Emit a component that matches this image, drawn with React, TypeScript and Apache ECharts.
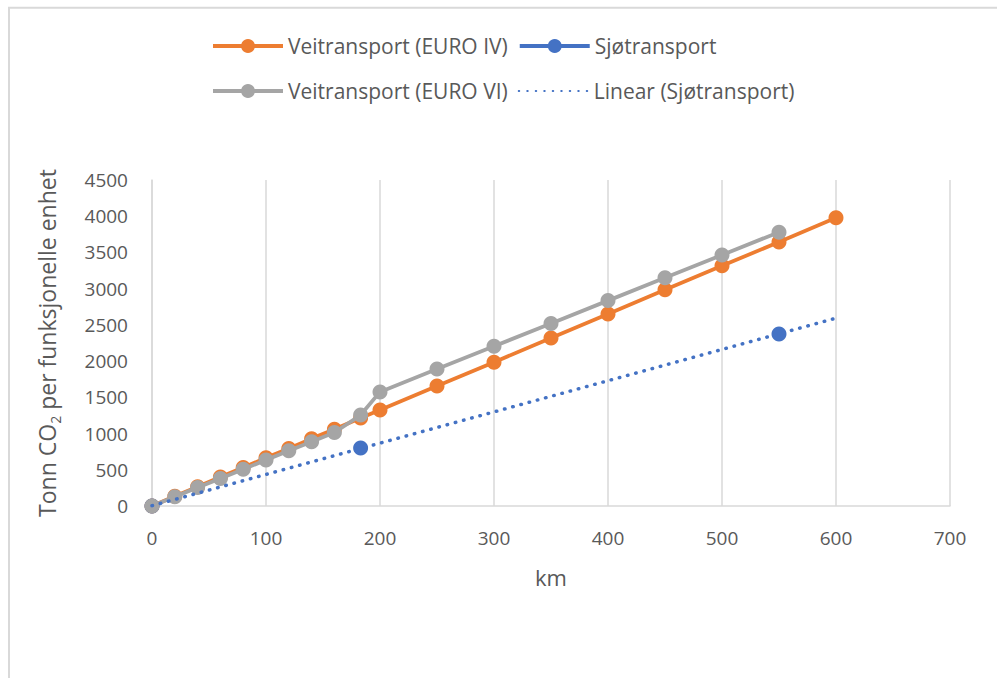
import React, { useEffect, useRef } from "react";
import * as echarts from "echarts";

// Distances (km) and tonnes CO2 per functional unit
const kmRoad = [0, 20, 40, 60, 80, 100, 120, 140, 160, 183, 200, 250, 300, 350, 400, 450, 500, 550, 600];
const euroIV = [0, 135, 265, 400, 530, 665, 795, 930, 1060, 1215, 1325, 1655, 1985, 2320, 2650, 2985, 3315, 3645, 3980];

const kmRoadVI = [0, 20, 40, 60, 80, 100, 120, 140, 160, 183, 200, 250, 300, 350, 400, 450, 500, 550];
const euroVI = [0, 127, 255, 380, 507, 635, 762, 888, 1015, 1255, 1575, 1890, 2205, 2520, 2835, 3150, 3465, 3780];

const kmSea = [0, 183, 550];
const sea = [0, 800, 2375];

const trendRange = [0, 600];

const xTicks = { min: 0, max: 700, interval: 100 };
const yTicks = { min: 0, max: 4500, interval: 500 };

const ORANGE = "#ED7D31";
const GREY = "#A5A5A5";
const BLUE = "#4472C4";
const TEXT = "#595959";
const GRID = "#D9D9D9";
const FONT = "'Open Sans', 'Noto Sans', sans-serif";

// Least-squares line through the sea transport points
function linearFit(xs: number[], ys: number[]) {
  const n = xs.length;
  const mx = xs.reduce((a, b) => a + b, 0) / n;
  const my = ys.reduce((a, b) => a + b, 0) / n;
  let sxy = 0;
  let sxx = 0;
  for (let i = 0; i < n; i++) {
    sxy += (xs[i] - mx) * (ys[i] - my);
    sxx += (xs[i] - mx) * (xs[i] - mx);
  }
  const slope = sxy / sxx;
  return { slope, intercept: my - slope * mx };
}

const zip = (xs: number[], ys: number[]) => xs.map((x, i) => [x, ys[i]]);

export default function App() {
  const ref = useRef<HTMLDivElement>(null);

  useEffect(() => {
    if (!ref.current) return;
    const chart = echarts.init(ref.current, null, { renderer: "svg" });
    const fit = linearFit(kmSea, sea);
    const trend = trendRange.map((x) => [x, fit.intercept + fit.slope * x]);

    const legendCommon = {
      orient: "horizontal" as const,
      padding: 0,
      itemWidth: 70,
      itemHeight: 17.5,
      itemGap: 10,
      textStyle: {
        fontSize: 21,
        color: TEXT,
        fontFamily: FONT,
        lineHeight: 24,
      },
    };

    chart.setOption({
      animation: false,
      backgroundColor: "#ffffff",
      graphic: [
        {
          type: "rect",
          shape: { x: 9, y: 7.7, width: 1100, height: 800 },
          style: { fill: "none", stroke: GRID, lineWidth: 2 },
          silent: true,
        },
      ],
      legend: [
        {
          ...legendCommon,
          left: 211,
          top: 34,
          data: [
            { name: "Veitransport (EURO IV)", lineStyle: { width: 4 } },
            { name: "Sjøtransport", lineStyle: { opacity: 1, width: 4, color: BLUE } },
          ],
        },
        {
          ...legendCommon,
          left: 211,
          top: 79,
          data: [
            { name: "Veitransport (EURO VI)", lineStyle: { width: 4 } },
            { name: "Linear (Sjøtransport)", itemStyle: { opacity: 0 } },
          ],
        },
      ],
      grid: { left: 152, right: 47, top: 180, bottom: 172, containLabel: false },
      xAxis: {
        type: "value",
        ...xTicks,
        name: "km",
        nameLocation: "middle",
        nameGap: 60,
        nameTextStyle: { fontSize: 22, color: TEXT, fontFamily: FONT },
        axisLine: { show: true, lineStyle: { color: GRID, width: 1.5 } },
        axisTick: { show: false },
        axisLabel: { fontSize: 19, color: TEXT, fontFamily: FONT, margin: 22 },
        splitLine: { show: true, lineStyle: { color: GRID, width: 1.5 } },
      },
      yAxis: {
        type: "value",
        ...yTicks,
        name: "Tonn CO{sub|2} per funksjonelle enhet",
        nameLocation: "middle",
        nameGap: 90,
        nameTextStyle: {
          fontSize: 23,
          color: TEXT,
          fontFamily: FONT,
          lineHeight: 30,
          rich: {
            sub: {
              fontSize: 14,
              color: TEXT,
              fontFamily: FONT,
              lineHeight: 30,
              verticalAlign: "bottom",
            },
          },
        },
        axisLine: { show: true, lineStyle: { color: GRID, width: 1.5 } },
        axisTick: { show: false },
        axisLabel: {
          fontSize: 19,
          color: TEXT,
          fontFamily: FONT,
          margin: 24,
          formatter: (v: number) => String(v),
        },
        splitLine: { show: false },
      },
      series: [
        {
          name: "Veitransport (EURO IV)",
          type: "line",
          data: zip(kmRoad, euroIV),
          symbol: "circle",
          symbolSize: 15,
          itemStyle: { color: ORANGE },
          lineStyle: { color: ORANGE, width: 3.8 },
          z: 2,
        },
        {
          name: "Sjøtransport",
          type: "line",
          data: zip(kmSea, sea),
          symbol: "circle",
          symbolSize: 15,
          itemStyle: { color: BLUE },
          lineStyle: { color: BLUE, width: 3.8, opacity: 0 },
          z: 3,
        },
        {
          name: "Veitransport (EURO VI)",
          type: "line",
          data: zip(kmRoadVI, euroVI),
          symbol: "circle",
          symbolSize: 15,
          itemStyle: { color: GREY },
          lineStyle: { color: GREY, width: 3.8 },
          z: 4,
        },
        {
          name: "Linear (Sjøtransport)",
          type: "line",
          data: trend,
          symbol: "none",
          itemStyle: { color: BLUE },
          lineStyle: { color: BLUE, width: 3.5, type: [0.5, 8], cap: "round" },
          z: 5,
        },
      ],
    });
    return () => chart.dispose();
  }, []);

  return (
    <div
      ref={ref}
      style={{ position: "fixed", left: 0, top: 0, width: 997, height: 678 }}
    />
  );
}
